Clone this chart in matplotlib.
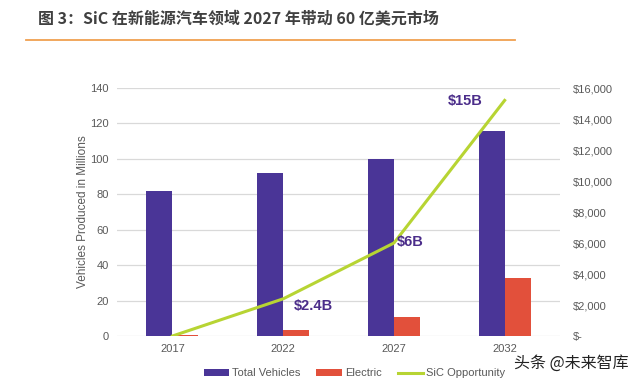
import matplotlib.pyplot as plt
import numpy as np

plt.rcParams['font.family'] = ['Liberation Sans', 'Noto Sans CJK SC', 'DejaVu Sans']

years = ['2017', '2022', '2027', '2032']
total = [82, 92, 100, 116]
electric = [0.5, 3.5, 11, 33]
sic = [0, 2400, 6000, 15200]
sic_labels = ['', '$2.4B', '$6B', '$15B']
left_ticks = [0, 20, 40, 60, 80, 100, 120, 140]
right_ticks = [0, 2000, 4000, 6000, 8000, 10000, 12000, 14000, 16000]

c_total = '#4a3597'
c_elec = '#e2503b'
c_line = '#b7d433'
c_tick = '#595959'

fig = plt.figure(figsize=(6.4, 3.86), dpi=100)
ax = fig.add_axes([0.183, 0.1295, 0.692, 0.6425])

x = np.arange(len(years))
w = 0.235
ax.bar(x - w / 2, total, w, color=c_total, label='Total Vehicles', zorder=2)
ax.bar(x + w / 2, electric, w, color=c_elec, label='Electric', zorder=2)
ax.set_xlim(-0.5, 3.5)
ax.set_ylim(0, 140)
ax.set_yticks(left_ticks)
ax.set_xticks(x)
ax.set_xticklabels(years)
ax.grid(axis='y', color='#d9d9d9', linewidth=0.9, zorder=0)
ax.set_axisbelow(True)
for s in ax.spines.values():
    s.set_visible(False)
ax.tick_params(length=0, labelsize=8, colors=c_tick, pad=6)
ax.set_ylabel('Vehicles Produced in Millions', fontsize=8.5, color=c_tick, labelpad=1)

ax2 = ax.twinx()
ax2.plot(x, sic, color=c_line, linewidth=2.2, label='SiC Opportunity', zorder=3)
ax2.set_ylim(0, 16000)
ax2.set_yticks(right_ticks)
ax2.set_yticklabels(['$-'] + ['${:,}'.format(v) for v in right_ticks[1:]])
for lab in ax2.get_yticklabels():
    lab.set_horizontalalignment('left')
for s in ax2.spines.values():
    s.set_visible(False)
ax2.tick_params(length=0, labelsize=8, colors=c_tick, pad=9)

# label offsets from each point (x in categories, y in $)
offsets = [(0, 0), (0.27, -465), (0.15, 65), (-0.36, -40)]
for i, lab in enumerate(sic_labels):
    if lab:
        ax2.text(x[i] + offsets[i][0], sic[i] + offsets[i][1], lab, fontsize=10.5,
                 fontweight='bold', color='#4b2d8a', ha='center', va='center')

h1, l1 = ax.get_legend_handles_labels()
h2, l2 = ax2.get_legend_handles_labels()
fig.legend(h1 + h2, l1 + l2, loc='center', bbox_to_anchor=(0.554, 0.033), ncol=3,
           frameon=False, fontsize=8, labelcolor=c_tick, handlelength=2.3,
           handleheight=0.6, columnspacing=1.4, handletextpad=0.3)

fig.text(0.06, 0.953, '图 3：SiC 在新能源汽车领域 2027 年带动 60 亿美元市场', fontsize=11.5,
         fontweight='bold', color='#404040', va='center',
         family=['Noto Sans CJK SC', 'DejaVu Sans'])
fig.add_artist(plt.Line2D([0.04, 0.805], [0.896, 0.896], color='#f0a050', linewidth=1.3))

fig.text(0.982, 0.058, '头条 @未来智库', fontsize=11.5, color='#222222', ha='right', va='center',
         family=['Noto Sans CJK SC', 'DejaVu Sans'])

fig.savefig('out.png', dpi=100)
